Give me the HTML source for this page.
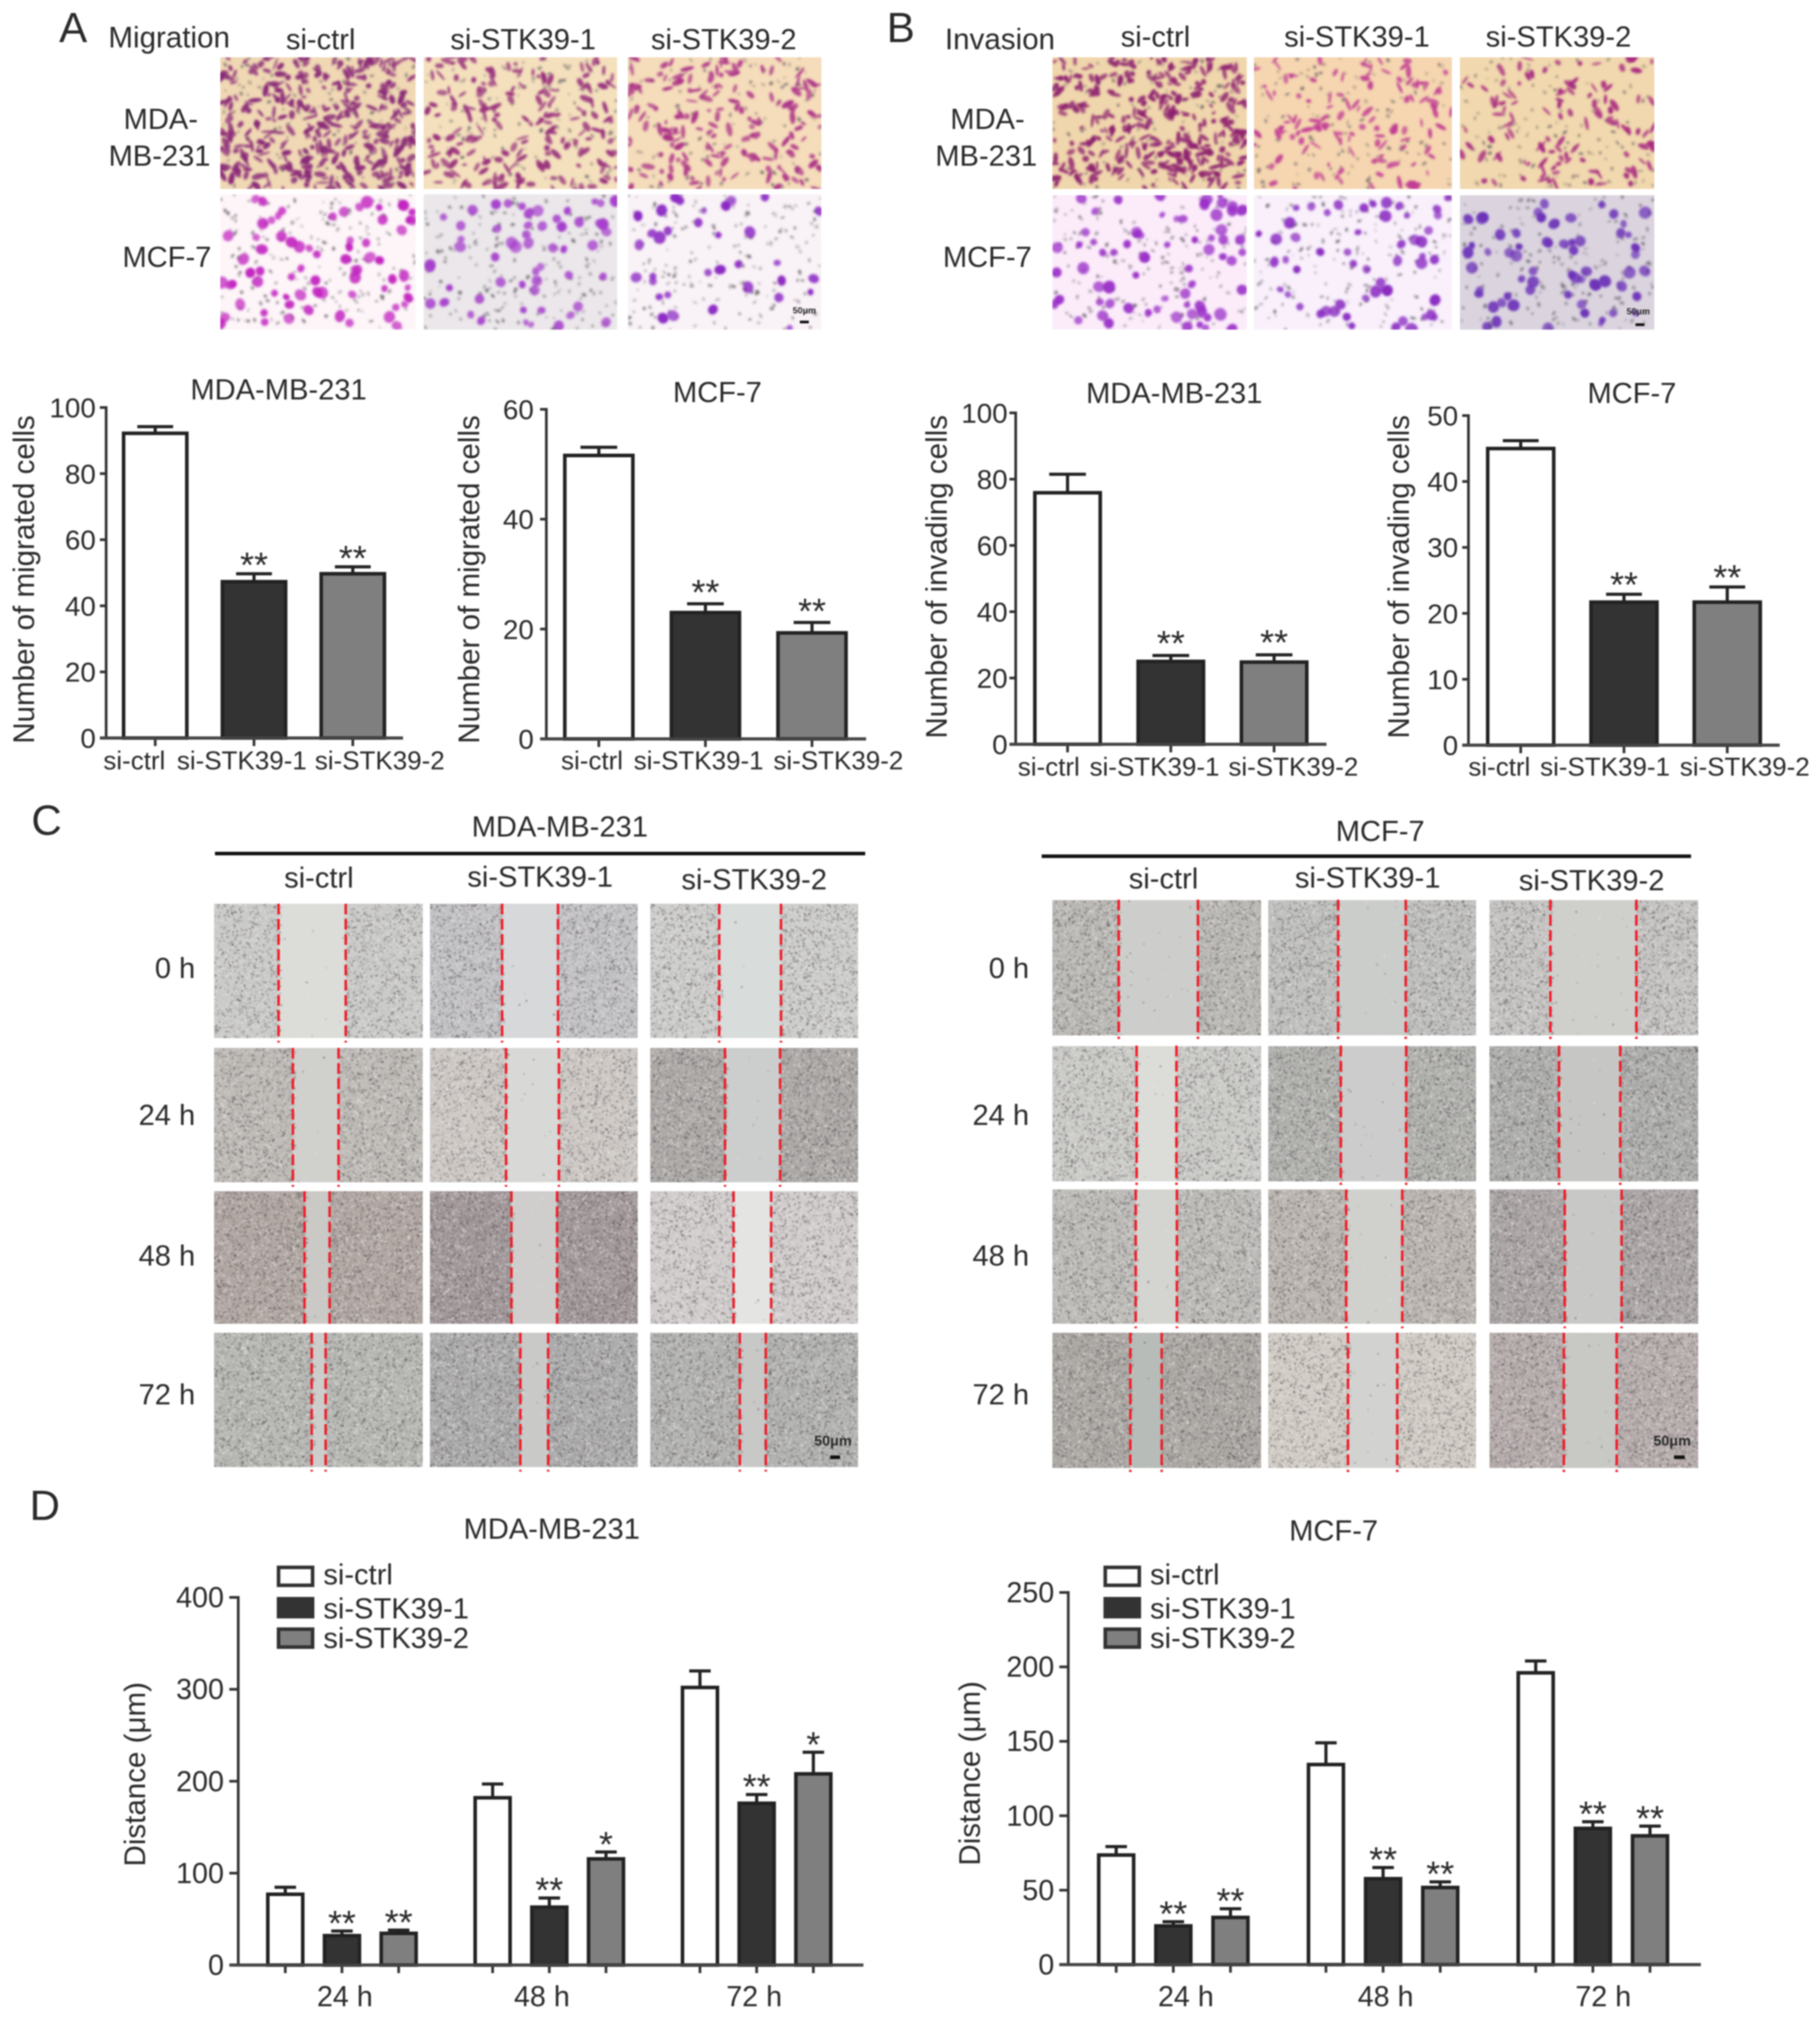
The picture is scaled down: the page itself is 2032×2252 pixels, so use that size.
<!DOCTYPE html>
<html lang="en">
<head>
<meta charset="utf-8">
<title>STK39 knockdown migration and invasion figure</title>
<style>
html,body{margin:0;padding:0;background:#fff;}
#figure{position:relative;width:2032px;height:2252px;overflow:hidden;background:#fff;filter:blur(0.7px);}
#figure canvas{position:absolute;display:block;}
#overlay{position:absolute;left:0;top:0;}
#overlay text{font-family:"Liberation Sans",Arial,sans-serif;fill:#2a2a2a;}
</style>
</head>
<body>
<div id="figure">
<svg id="overlay" width="2032" height="2252" viewBox="0 0 2032 2252" xmlns="http://www.w3.org/2000/svg">
  <g font-size="47">
    <text x="66" y="47">A</text>
    <text x="990" y="47">B</text>
    <text x="35" y="932">C</text>
    <text x="33" y="1697">D</text>
  </g>
  <g font-size="32.5">
    <text x="121" y="53" font-size="33">Migration</text>
    <text x="358" y="55" text-anchor="middle">si-ctrl</text>
    <text x="584" y="55" text-anchor="middle">si-STK39-1</text>
    <text x="808" y="55" text-anchor="middle">si-STK39-2</text>
    <text x="138" y="144">MDA-</text>
    <text x="235" y="185" text-anchor="end">MB-231</text>
    <text x="236" y="298" text-anchor="end">MCF-7</text>

    <text x="1055" y="55" font-size="33">Invasion</text>
    <text x="1290" y="52" text-anchor="middle">si-ctrl</text>
    <text x="1515" y="52" text-anchor="middle">si-STK39-1</text>
    <text x="1740" y="52" text-anchor="middle">si-STK39-2</text>
    <text x="1061" y="144">MDA-</text>
    <text x="1158" y="185" text-anchor="end">MB-231</text>
    <text x="1152" y="298" text-anchor="end">MCF-7</text>

    <text x="625" y="934" text-anchor="middle">MDA-MB-231</text>
    <text x="356" y="991" text-anchor="middle">si-ctrl</text>
    <text x="603" y="990" text-anchor="middle">si-STK39-1</text>
    <text x="842" y="993" text-anchor="middle">si-STK39-2</text>
    <text x="218" y="1092" text-anchor="end">0 h</text>
    <text x="218" y="1256" text-anchor="end">24 h</text>
    <text x="218" y="1413" text-anchor="end">48 h</text>
    <text x="218" y="1568" text-anchor="end">72 h</text>

    <text x="1541" y="939" text-anchor="middle">MCF-7</text>
    <text x="1299" y="992" text-anchor="middle">si-ctrl</text>
    <text x="1527" y="991" text-anchor="middle">si-STK39-1</text>
    <text x="1777" y="994" text-anchor="middle">si-STK39-2</text>
    <text x="1149" y="1092" text-anchor="end">0 h</text>
    <text x="1149" y="1256" text-anchor="end">24 h</text>
    <text x="1149" y="1413" text-anchor="end">48 h</text>
    <text x="1149" y="1568" text-anchor="end">72 h</text>
  </g>
  <rect x="240" y="951" width="726" height="4" fill="#111"/>
  <rect x="1163" y="954" width="725" height="4" fill="#111"/>

  <text x="885" y="350" font-size="10" font-weight="bold">50μm</text>
  <rect x="893" y="358" width="10" height="3" fill="#111"/>
  <text x="1816" y="351" font-size="10" font-weight="bold">50μm</text>
  <rect x="1826" y="361" width="10" height="3" fill="#111"/>
  <text x="909" y="1614" font-size="16" font-weight="bold">50μm</text>
  <rect x="927" y="1625" width="11" height="4" fill="#111"/>
  <text x="1846" y="1614" font-size="16" font-weight="bold">50μm</text>
  <rect x="1869" y="1625" width="12" height="4" fill="#111"/>
</svg>
</div>
<script>
/* ---------- chart data ---------- */
const singleCategories = ['si-ctrl', 'si-STK39-1', 'si-STK39-2'];
const singleStars = ['', '**', '**'];

const migMdaValues = [92.2, 47.3, 49.7];
const migMdaUpper = [94.2, 49.7, 51.8];
const migMdaTicks = [0, 20, 40, 60, 80, 100];

const migMcfValues = [51.6, 23.0, 19.3];
const migMcfUpper = [53.1, 24.6, 21.2];
const migMcfTicks = [0, 20, 40, 60];

const invMdaValues = [75.9, 25.0, 24.8];
const invMdaUpper = [81.5, 26.8, 27.0];
const invMdaTicks = [0, 20, 40, 60, 80, 100];

const invMcfValues = [45.0, 21.7, 21.7];
const invMcfUpper = [46.2, 22.9, 24.0];
const invMcfTicks = [0, 10, 20, 30, 40, 50];

const timeCategories = ['24 h', '48 h', '72 h'];
const seriesNames = ['si-ctrl', 'si-STK39-1', 'si-STK39-2'];

const distMdaCtrl = [77, 182, 302];
const distMdaCtrlUpper = [84.7, 197, 320];
const distMdaS1 = [32, 63, 176];
const distMdaS1Upper = [37, 73, 185.5];
const distMdaS2 = [34.5, 115.5, 208];
const distMdaS2Upper = [38, 123, 231.5];
const distMdaS1Stars = ['**', '**', '**'];
const distMdaS2Stars = ['**', '*', '*'];
const distMdaTicks = [0, 100, 200, 300, 400];

const distMcfCtrl = [73.6, 134.4, 196];
const distMcfCtrlUpper = [79.3, 149, 204];
const distMcfS1 = [26, 57.7, 91.5];
const distMcfS1Upper = [28.8, 65.2, 96];
const distMcfS2 = [31.7, 51.8, 86.5];
const distMcfS2Upper = [37.5, 55.6, 93];
const distMcfS1Stars = ['**', '**', '**'];
const distMcfS2Stars = ['**', '**', '**'];
const distMcfTicks = [0, 50, 100, 150, 200, 250];

/* ---------- helpers ---------- */
const SVGNS = 'http://www.w3.org/2000/svg';
const overlay = document.getElementById('overlay');
const figure = document.getElementById('figure');
const BAR_FILLS = ['#ffffff', '#333333', '#7f7f7f'];
const INK = '#222222';

function mk(tag, attrs, parent, text) {
  const node = document.createElementNS(SVGNS, tag);
  Object.keys(attrs).forEach(function (k) { node.setAttribute(k, attrs[k]); });
  if (text !== undefined) node.textContent = text;
  parent.appendChild(node);
  return node;
}

function drawAxes(g, cfg, ticks, yScale) {
  const yAxis = mk('line', {x1: cfg.axisX, x2: cfg.axisX, y1: cfg.y1 - 1.5, y2: cfg.y0, stroke: '#333', 'stroke-width': 3}, g);
  
  
  ticks.forEach(function (t) {
    const tick = mk('line', {x1: cfg.axisX - cfg.tickLen, x2: cfg.axisX, y1: yScale(t), y2: yScale(t), stroke: '#333', 'stroke-width': 3}, g);
    
    
    const label = mk('text', {x: cfg.labelX, y: yScale(t) + 11, 'text-anchor': 'end', 'font-size': cfg.tickFont}, g, String(t));
    
    
  });
  const title = mk('text', {transform: 'translate(' + cfg.yTitleX + ',' + cfg.yTitleY + ') rotate(-90)', 'text-anchor': 'middle', 'font-size': 33}, g, cfg.yTitle);
  
  
  const chartTitle = mk('text', {x: cfg.titleX, y: cfg.titleY, 'text-anchor': 'middle', 'font-size': 32.5}, g, cfg.title);
  
  
}

function drawXAxisLine(g, cfg) {
  const xAxis = mk('line', {x1: cfg.axisX - cfg.tickLen, x2: cfg.xEnd, y1: cfg.y0, y2: cfg.y0, stroke: '#444', 'stroke-width': 3.5}, g);
  
  
}

function drawBar(g, left, width, value, upper, fill, capW, stars, yScale, cfg) {
  const cx = left + width / 2;
  const stem = mk('line', {x1: cx, x2: cx, y1: yScale(value), y2: yScale(upper), stroke: INK, 'stroke-width': 3.5}, g);
  
  
  const cap = mk('line', {x1: cx - capW / 2, x2: cx + capW / 2, y1: yScale(upper), y2: yScale(upper), stroke: INK, 'stroke-width': 3.5}, g);
  
  
  const bar = mk('rect', {x: left + 2, y: yScale(value), width: width - 4, height: cfg.y0 - yScale(value), fill: fill, stroke: INK, 'stroke-width': 4}, g);
  
  
  const tick = mk('line', {x1: cx, x2: cx, y1: cfg.y0, y2: cfg.y0 + 9, stroke: '#333', 'stroke-width': 3}, g);
  
  
  if (stars) {
    const mark = mk('text', {x: cx, y: yScale(upper) + cfg.starDy, 'text-anchor': 'middle', 'font-size': 40}, g, stars);
    
    
  }
}

function singleChart(name, cfg, values, upper, ticks) {
  const g = mk('g', {}, overlay);
  
  
  const yScale = function (v) { return cfg.y0 - v / cfg.yMax * (cfg.y0 - cfg.y1); };
  const xScale = function (i) { return cfg.barLeft + i * cfg.barPitch; };
  drawAxes(g, cfg, ticks, yScale);
  values.forEach(function (v, i) {
    drawBar(g, xScale(i), cfg.barWidth, v, upper[i], BAR_FILLS[i], cfg.capW, singleStars[i], yScale, cfg);
    const label = mk('text', {x: cfg.catX[i], y: cfg.catY, 'text-anchor': 'middle', 'font-size': 29}, g, singleCategories[i]);
    
    
  });
  drawXAxisLine(g, cfg);
}

function groupedChart(name, cfg, series, uppers, stars, ticks) {
  const g = mk('g', {}, overlay);
  
  
  const yScale = function (v) { return cfg.y0 - v / cfg.yMax * (cfg.y0 - cfg.y1); };
  const xScale = function (gi, si) { return cfg.barLeft + gi * cfg.groupPitch + si * cfg.barPitch; };
  drawAxes(g, cfg, ticks, yScale);
  timeCategories.forEach(function (cat, gi) {
    series.forEach(function (vals, si) {
      drawBar(g, xScale(gi, si), cfg.barWidth, vals[gi], uppers[si][gi], BAR_FILLS[si], cfg.capW, stars[si] ? stars[si][gi] : '', yScale, cfg);
    });
    const label = mk('text', {x: cfg.catX[gi], y: cfg.catY, 'text-anchor': 'middle', 'font-size': 32}, g, cat);
    
    
  });
  drawXAxisLine(g, cfg);
  seriesNames.forEach(function (s, i) {
    const swatch = mk('rect', {x: cfg.legendX + 2, y: cfg.legendY[i] + 2, width: 38, height: 20, fill: BAR_FILLS[i], stroke: '#333', 'stroke-width': 4}, g);
    
    
    const text = mk('text', {x: cfg.legendX + 52, y: cfg.legendTextY[i], 'font-size': 32.5}, g, s);
    
    
  });
}

/* ---------- charts ---------- */
singleChart('migration-mda-chart', {
  axisX: 118.5, y0: 824, y1: 455, yMax: 100, xEnd: 450, tickLen: 7, labelX: 107, tickFont: 31, starDy: 4,
  barLeft: 136, barPitch: 110.3, barWidth: 74.6, capW: 40,
  catX: [150, 270, 424], catY: 859, yTitle: 'Number of migrated cells', yTitleX: 38, yTitleY: 647,
  title: 'MDA-MB-231', titleX: 311, titleY: 446
}, migMdaValues, migMdaUpper, migMdaTicks);

singleChart('migration-mcf-chart', {
  axisX: 610, y0: 825, y1: 457, yMax: 60, xEnd: 967, tickLen: 7, labelX: 596, tickFont: 31, starDy: 1,
  barLeft: 628.6, barPitch: 119, barWidth: 80, capW: 41,
  catX: [661, 780, 936], catY: 859, yTitle: 'Number of migrated cells', yTitleX: 535, yTitleY: 647,
  title: 'MCF-7', titleX: 801, titleY: 449
}, migMcfValues, migMcfUpper, migMcfTicks);

singleChart('invasion-mda-chart', {
  axisX: 1134, y0: 831, y1: 461, yMax: 100, xEnd: 1481, tickLen: 7, labelX: 1125, tickFont: 31, starDy: 0,
  barLeft: 1153.4, barPitch: 115.3, barWidth: 77, capW: 41,
  catX: [1171, 1289, 1444], catY: 866, yTitle: 'Number of invading cells', yTitleX: 1057, yTitleY: 644,
  title: 'MDA-MB-231', titleX: 1311, titleY: 450
}, invMdaValues, invMdaUpper, invMdaTicks);

singleChart('invasion-mcf-chart', {
  axisX: 1639.5, y0: 832, y1: 464, yMax: 50, xEnd: 1987, tickLen: 7, labelX: 1628, tickFont: 31, starDy: 3,
  barLeft: 1659, barPitch: 115.3, barWidth: 77.7, capW: 40,
  catX: [1674, 1792, 1948], catY: 866, yTitle: 'Number of invading cells', yTitleX: 1573, yTitleY: 644,
  title: 'MCF-7', titleX: 1822, titleY: 450
}, invMcfValues, invMcfUpper, invMcfTicks);

groupedChart('distance-mda-chart', {
  axisX: 266, y0: 2194, y1: 1783.5, yMax: 400, xEnd: 964, tickLen: 10, labelX: 250, tickFont: 32, starDy: 5,
  barLeft: 297, groupPitch: 231.5, barPitch: 63.3, barWidth: 43, capW: 24,
  catX: [385, 605, 842], catY: 2240, yTitle: 'Distance (μm)', yTitleX: 162, yTitleY: 1981,
  title: 'MDA-MB-231', titleX: 616, titleY: 1718,
  legendX: 309, legendY: [1748, 1783, 1817], legendTextY: [1769, 1807, 1840]
}, [distMdaCtrl, distMdaS1, distMdaS2], [distMdaCtrlUpper, distMdaS1Upper, distMdaS2Upper], [null, distMdaS1Stars, distMdaS2Stars], distMdaTicks);

groupedChart('distance-mcf-chart', {
  axisX: 1192.7, y0: 2193.5, y1: 1778, yMax: 250, xEnd: 1899, tickLen: 10, labelX: 1177, tickFont: 32, starDy: 5,
  barLeft: 1224.7, groupPitch: 234.2, barPitch: 63.8, barWidth: 43, capW: 24,
  catX: [1324, 1547, 1790], catY: 2240, yTitle: 'Distance (μm)', yTitleX: 1094, yTitleY: 1980,
  title: 'MCF-7', titleX: 1489, titleY: 1720,
  legendX: 1232, legendY: [1748, 1783, 1817], legendTextY: [1769, 1807, 1840]
}, [distMcfCtrl, distMcfS1, distMcfS2], [distMcfCtrlUpper, distMcfS1Upper, distMcfS2Upper], [null, distMcfS1Stars, distMcfS2Stars], distMcfTicks);

/* ---------- micrograph textures (illustrative, not chart data) ---------- */
function prng(seed) {
  let a = seed >>> 0;
  return function () {
    a = (a + 0x6D2B79F5) >>> 0;
    let t = a;
    t = Math.imul(t ^ (t >>> 15), t | 1);
    t ^= t + Math.imul(t ^ (t >>> 7), t | 61);
    return ((t ^ (t >>> 14)) >>> 0) / 4294967296;
  };
}

function makeCanvas(x0, y0, x1, y1) {
  const c = document.createElement('canvas');
  c.width = Math.round(x1 - x0);
  c.height = Math.round(y1 - y0);
  c.style.left = x0 + 'px';
  c.style.top = y0 + 'px';
  figure.insertBefore(c, overlay);
  return c;
}

const stainedImages = [
  /* x0, x1, y0, y1, background, cell colour, cells, shape */
  ['migration-mda-si-ctrl', 246, 464, 64, 211, '#f0d8b4', '#8a2a78', 360, 'spindle'],
  ['migration-mda-si-stk39-1', 473, 689, 64, 211, '#f4e0bd', '#98307c', 190, 'spindle'],
  ['migration-mda-si-stk39-2', 701, 917, 64, 211, '#f5dcba', '#ad3488', 170, 'spindle'],
  ['migration-mcf-si-ctrl', 246, 464, 217, 368, '#fdf5f8', '#c224c0', 70, 'round'],
  ['migration-mcf-si-stk39-1', 473, 689, 217, 368, '#ebe7ea', '#a640cc', 55, 'round'],
  ['migration-mcf-si-stk39-2', 701, 917, 217, 368, '#f9f2f6', '#8a28c4', 34, 'round'],
  ['invasion-mda-si-ctrl', 1175, 1392, 64, 211, '#f0d6ac', '#8e2270', 320, 'spindle'],
  ['invasion-mda-si-stk39-1', 1400, 1621, 64, 211, '#f5d6b0', '#c23c94', 120, 'spindle'],
  ['invasion-mda-si-stk39-2', 1630, 1847, 64, 211, '#f1d8ae', '#a82a80', 115, 'spindle'],
  ['invasion-mcf-si-ctrl', 1175, 1392, 218, 368, '#fcecfa', '#9a30c8', 70, 'round'],
  ['invasion-mcf-si-stk39-1', 1400, 1621, 218, 368, '#f9f0fb', '#8a2cc2', 55, 'round'],
  ['invasion-mcf-si-stk39-2', 1630, 1847, 218, 368, '#dbd4df', '#6c32b8', 62, 'round']
];

stainedImages.forEach(function (spec, idx) {
  const c = makeCanvas(spec[1], spec[3], spec[2], spec[4]);
  
  
  const ctx = c.getContext('2d');
  const w = c.width, h = c.height;
  const rnd = prng(1000 + idx * 77);
  ctx.fillStyle = spec[5];
  ctx.fillRect(0, 0, w, h);
  ctx.filter = 'blur(0.9px)';
  ctx.fillStyle = '#55505a';
  const specks = spec[8] === 'round' ? 170 : 110;
  for (let i = 0; i < specks; i++) {
    ctx.globalAlpha = 0.3 + rnd() * 0.5;
    ctx.beginPath();
    ctx.ellipse(rnd() * w, rnd() * h, 0.8 + rnd() * 1.2, 1 + rnd() * 2, rnd() * 3.14, 0, 6.29);
    ctx.fill();
  }
  ctx.fillStyle = spec[6];
  for (let i = 0; i < spec[7]; i++) {
    const round = spec[8] === 'round';
    const rx = round ? 3.5 + rnd() * 3.5 : 2.5 + rnd() * 5.5;
    const ry = round ? rx * (0.8 + rnd() * 0.25) : 1.2 + rnd() * 2.2;
    ctx.globalAlpha = 0.7 + rnd() * 0.3;
    ctx.beginPath();
    ctx.ellipse(rnd() * w, rnd() * h, rx, ry, rnd() * 3.14, 0, 6.29);
    ctx.fill();
  }
  ctx.globalAlpha = 1;
  ctx.filter = 'none';
});

const woundLayout = [
  {name: 'wound-mda', cols: [[238.5, 471], [480, 712], [726, 958]], rows: [[1009, 1159], [1170, 1320], [1330, 1478], [1488, 1638]]},
  {name: 'wound-mcf', cols: [[1175, 1407.5], [1416, 1648], [1663, 1895.5]], rows: [[1004.5, 1155], [1167.5, 1318], [1328, 1478], [1488, 1638.5]]}
];
const woundEdges = [
  [[[311, 386], [560.6, 623], [803, 872]], [[327, 378], [565, 624], [809.5, 871]], [[340, 368], [571, 622], [819, 861]], [[348, 363.6], [581, 612], [826, 855]]],
  [[[1249, 1337.5], [1494, 1569.5], [1731, 1827]], [[1269, 1313.5], [1497, 1570], [1740.6, 1809]], [[1268, 1314], [1503, 1565.6], [1747, 1810.5]], [[1262, 1297], [1505, 1560], [1746, 1805]]]
];
const woundTones = [
  [[['#cacac8', '#dcdcd8'], ['#c2c1c4', '#d6d8da'], ['#cdcdcb', '#d8dcdb']],
   [['#bebab6', '#d0d0cd'], ['#cdc8c4', '#d8d8d6'], ['#aca9a7', '#cbcecd']],
   [['#b0a6a2', '#cbc9c6'], ['#a2989a', '#cfcecc'], ['#d1cdcd', '#e4e4e2']],
   [['#b6b7b3', '#cdcdcb'], ['#acabac', '#c9c9c8'], ['#b2b2b0', '#c8c8c6']]],
  [[['#bab8b4', '#cdcecb'], ['#bfbfbd', '#cbcdcb'], ['#c6c4c2', '#cfcfcc']],
   [['#cacac7', '#dcdcd8'], ['#b0b0ad', '#cbcccb'], ['#adadab', '#c6c7c5']],
   [['#bdbbb8', '#d4d4d0'], ['#bbb5b0', '#d0d0cc'], ['#aba5a5', '#c8c8c6']],
   [['#aba7a3', '#b8bcb8'], ['#d2ccc6', '#d2d2d0'], ['#b6acac', '#c8c8c4']]]
];

woundLayout.forEach(function (panel, p) {
  panel.rows.forEach(function (row, r) {
    panel.cols.forEach(function (col, k) {
      const c = makeCanvas(col[0], row[0], col[1], row[1]);
      
      
      const ctx = c.getContext('2d');
      const w = c.width, h = c.height;
      const rnd = prng(5000 + p * 1000 + r * 50 + k * 7);
      const edges = woundEdges[p][r][k];
      const gapL = edges[0] - col[0];
      const gapR = edges[1] - col[0];
      ctx.fillStyle = woundTones[p][r][k][0];
      ctx.fillRect(0, 0, w, h);
      ctx.fillStyle = woundTones[p][r][k][1];
      ctx.fillRect(gapL, 0, gapR - gapL, h);
      const count = Math.round(w * h / 6);
      for (let i = 0; i < count; i++) {
        const x = rnd() * w;
        const y = rnd() * h;
        if (x > gapL + 2 && x < gapR - 2 && rnd() > 0.012) continue;
        const dark = rnd() < 0.45;
        ctx.fillStyle = dark ? '#4a4648' : '#f2f0ee';
        ctx.globalAlpha = dark ? 0.25 + rnd() * 0.3 : 0.25 + rnd() * 0.25;
        const s = 0.9 + rnd() * 1.2;
        ctx.fillRect(x, y, s, s);
      }
      ctx.globalAlpha = 1;
      edges.forEach(function (ex) {
        const line = mk('line', {x1: ex, x2: ex, y1: row[0], y2: row[1] + 5, stroke: '#ee1c28', 'stroke-width': 2.8, 'stroke-dasharray': '12 5'}, overlay);
        
        
      });
    });
  });
});
</script>
</body>
</html>
